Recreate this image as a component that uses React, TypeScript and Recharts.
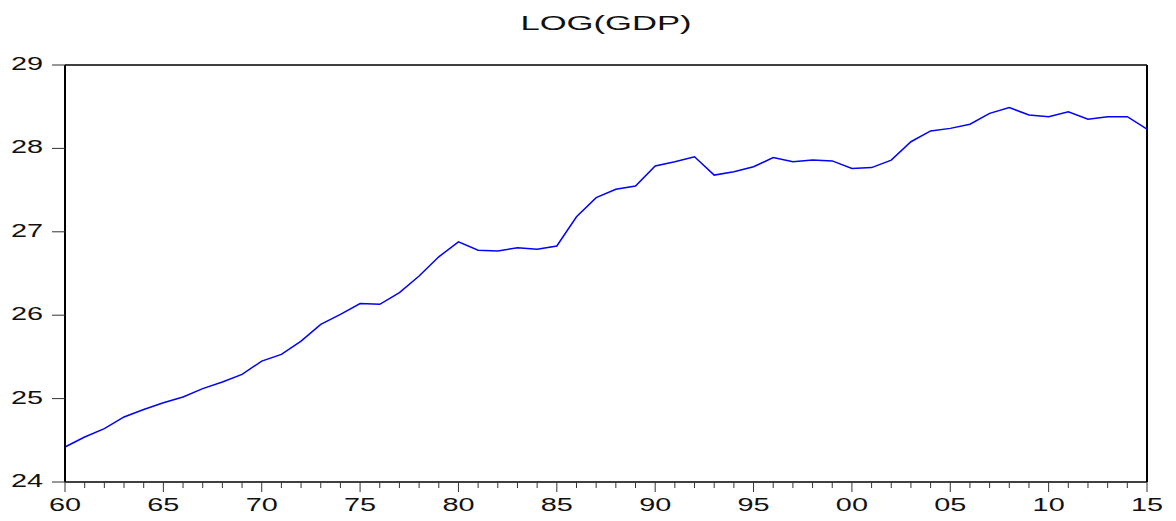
import React from 'react';
import { LineChart, Line, XAxis, YAxis, ReferenceLine } from 'recharts';

const years = [
  1960, 1961, 1962, 1963, 1964, 1965, 1966, 1967, 1968, 1969,
  1970, 1971, 1972, 1973, 1974, 1975, 1976, 1977, 1978, 1979,
  1980, 1981, 1982, 1983, 1984, 1985, 1986, 1987, 1988, 1989,
  1990, 1991, 1992, 1993, 1994, 1995, 1996, 1997, 1998, 1999,
  2000, 2001, 2002, 2003, 2004, 2005, 2006, 2007, 2008, 2009,
  2010, 2011, 2012, 2013, 2014, 2015,
];

const logGdp = [
  24.42, 24.54, 24.64, 24.78, 24.87, 24.95, 25.02, 25.12, 25.2, 25.29,
  25.45, 25.53, 25.69, 25.89, 26.01, 26.14, 26.13, 26.27, 26.47, 26.7,
  26.88, 26.78, 26.77, 26.81, 26.79, 26.83, 27.18, 27.41, 27.51, 27.55,
  27.79, 27.84, 27.9, 27.68, 27.72, 27.78, 27.89, 27.84, 27.86, 27.85,
  27.76, 27.77, 27.86, 28.08, 28.21, 28.24, 28.29, 28.42, 28.49, 28.4,
  28.38, 28.44, 28.35, 28.38, 28.38, 28.23,
];

const yTicks = [24, 25, 26, 27, 28, 29];
const majorEvery = 5;
const title = 'LOG(GDP)';

const data = years.map((year, i) => ({ year, value: logGdp[i] }));

const FONT = '"Liberation Sans", Arial, Helvetica, sans-serif';
const SX = 1.65;
const FS = 17.5;

const XTick = (props: any) => {
  const { x, y, payload } = props;
  const yr = payload.value as number;
  const major = yr % majorEvery === 0;
  return (
    <g>
      <line x1={x} x2={x} y1={y} y2={y + (major ? 10 : 6)} stroke="#333" strokeWidth={1} />
      {major && (
        <text
          transform={`translate(${x},${y + 29}) scale(${SX},1)`}
          textAnchor="middle"
          fontSize={FS}
          fontFamily={FONT}
          fill="#111"
        >
          {String(yr % 100).padStart(2, '0')}
        </text>
      )}
    </g>
  );
};

const YTick = (props: any) => {
  const { x, y, payload } = props;
  return (
    <g>
      <line x1={x - 13} x2={x} y1={y} y2={y} stroke="#333" strokeWidth={1} />
      <text
        transform={`translate(${x - 22},${y + 5}) scale(${SX},1)`}
        textAnchor="end"
        fontSize={FS}
        fontFamily={FONT}
        fill="#111"
      >
        {payload.value}
      </text>
    </g>
  );
};

export default function App() {
  return (
    <div style={{ position: 'absolute', left: 0, top: 0, width: 1176, height: 521, background: '#fff' }}>
      <LineChart
        width={1176}
        height={521}
        data={data}
        margin={{ top: 65, right: 29, bottom: 0, left: 0 }}
      >
        <XAxis
          type="number"
          dataKey="year"
          domain={[1960, 2015]}
          ticks={years}
          interval={0}
          height={39}
          tickSize={0}
          tickMargin={0}
          tickLine={false}
          tick={<XTick />}
          axisLine={{ stroke: '#000', strokeWidth: 1.5 }}
        />
        <YAxis
          type="number"
          domain={[24, 29]}
          ticks={yTicks}
          interval={0}
          width={65}
          tickSize={0}
          tickMargin={0}
          tickLine={false}
          tick={<YTick />}
          axisLine={{ stroke: '#000', strokeWidth: 2 }}
        />
        <ReferenceLine y={29} stroke="#000" strokeWidth={1.5} />
        <ReferenceLine x={2015} stroke="#000" strokeWidth={2} />
        <Line
          type="linear"
          dataKey="value"
          stroke="#0000ff"
          strokeWidth={1.5}
          dot={false}
          isAnimationActive={false}
        />
      </LineChart>
      <svg
        width={1176}
        height={60}
        style={{ position: 'absolute', left: 0, top: 0, pointerEvents: 'none' }}
      >
        <text
          transform={`translate(606,30) scale(${SX},1)`}
          textAnchor="middle"
          fontSize={21}
          fontFamily={FONT}
          fill="#111"
        >
          {title}
        </text>
      </svg>
    </div>
  );
}
